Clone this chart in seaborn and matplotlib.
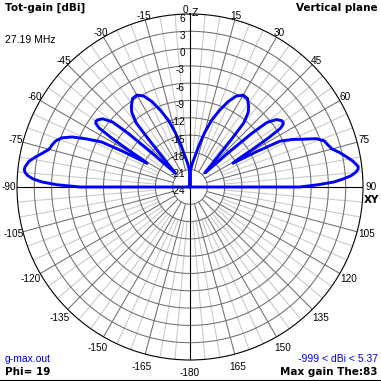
import numpy as np
import pandas as pd
import matplotlib
matplotlib.use("Agg")
import matplotlib.pyplot as plt
import seaborn as sns

# Elevation cut (theta from Z, clockwise positive), total gain in dBi
theta_deg = [-91, -90, -89, -88, -87, -86, -85, -84, -83, -81, -79, -77, -75, -73, -71, -69,
             -67, -65, -63, -62, -61, -60, -59, -58, -57, -56, -55, -54, -52, -50, -49, -48,
             -47, -46, -44, -42, -41, -40, -38, -36, -33, -30, -27, -24, -21, -18, -15, -12,
             -9, -6, -3, -1,
             0,
             1, 3, 6, 9, 12, 15, 18, 21, 24, 27, 30, 33, 36, 38, 40, 41, 42, 44, 46, 47,
             48, 49, 50, 52, 54, 55, 56, 57, 58, 59, 60, 61, 62, 63, 65, 67, 69, 71, 73,
             75, 77, 79, 81, 83, 84, 85, 86, 87, 88, 89, 90, 91]
gain_dbi = [-999, -4.9, -0.8, 1.8, 3.3, 4.2, 4.7, 4.9, 4.8, 4.3, 3.3, 2.2, 1.3, 1.0, 0.6, -0.2,
            -1.8, -4.3, -6.8, -11.0, -15.5, -14.5, -11.5, -8.0, -5.2, -4.3, -4.1, -4.2, -4.8, -6.5, -9.8, -15.5,
            -20.4, -20.4, -18.8, -16.0, -13.0, -9.5, -7.6, -6.7, -5.7, -5.6, -6.3, -7.8, -9.8, -11.8, -14.3, -16.8,
            -18.7, -19.8, -20.8, -21.2,
            -999,
            -21.2, -20.8, -19.8, -18.7, -16.8, -14.3, -11.8, -9.8, -7.8, -6.3, -5.6, -5.7, -6.7, -7.6, -9.5, -13.0, -16.0, -18.8, -20.4, -20.4,
            -15.5, -9.8, -6.6, -5.0, -4.4, -4.3, -4.5, -5.3, -8.0, -11.5, -14.5, -15.5, -11.0, -6.5, -4.5, -2.8, -0.6, 0.6, 1.0,
            1.5, 2.6, 3.6, 4.6, 5.37, 5.3, 4.8, 4.0, 2.6, 1.0, -1.8, -5.0, -999]

ring_db = [6, 3, 0, -3, -6, -9, -12, -15, -18, -21, -24]
angle_ticks = [-180, -165, -150, -135, -120, -105, -90, -75, -60, -45, -30, -15, 0,
               15, 30, 45, 60, 75, 90, 105, 120, 135, 150, 165]

sns.set_style("white")
plt.rcParams['font.family'] = ['Liberation Sans', 'DejaVu Sans']
plt.rcParams['text.color'] = 'black'

fig = plt.figure(figsize=(3.81, 3.81), dpi=100, facecolor='white')
ax = fig.add_axes([17 / 381, 21 / 381, 346 / 381, 346 / 381], projection='polar')
ax.set_theta_zero_location('N')
ax.set_theta_direction(-1)
ax.grid(False)
ax.set_xticks([])
ax.set_yticks([])
ax.spines['polar'].set_color('black')
ax.spines['polar'].set_linewidth(0.8)

rmin, rmax = ring_db[-1], ring_db[0]

# grid: rings every 3 dB, spokes every 15 deg (dark) and 5 deg (light)
full = np.linspace(0, 2 * np.pi, 721)
for db in ring_db[1:-1]:
    ax.plot(full, np.full_like(full, db), color='#6e6e6e', lw=0.75, zorder=1)
for a in range(0, 360, 5):
    t = np.deg2rad(a)
    if a % 90 == 0:
        ax.plot([t, t], [rmin, rmax], color='black', lw=0.8, zorder=2)
    elif a % 15 == 0:
        ax.plot([t, t], [-21, rmax], color='#6e6e6e', lw=0.75, zorder=1)
    else:
        ax.plot([t, t], [-18, rmax], color='#c8c8c8', lw=0.75, zorder=0.9)

# pattern
df = pd.DataFrame({'theta': np.deg2rad(theta_deg),
                   'gain': np.clip(gain_dbi, rmin, None)})
sns.lineplot(data=df, x='theta', y='gain', ax=ax, sort=False, estimator=None,
             color='#0000ff', lw=2.1, zorder=3)
ax.set_xlabel('')
ax.set_ylabel('')
ax.set_ylim(rmin, rmax)

# radial labels along the vertical axis
for db in ring_db:
    ax.annotate(str(db), xy=(0, db), xytext=(-5, -4.5), textcoords='offset pixels',
                ha='right', va='center', fontsize=7.2, zorder=4)

# angle labels round the outside
for a in angle_ticks:
    t = np.deg2rad(a)
    d = 8.5 - 4.5 * np.cos(t)
    dx, dy = d * np.sin(t), d * np.cos(t)
    if a == 0:
        dx = -5
    ax.annotate(str(a), xy=(t, rmax), xytext=(dx, dy), textcoords='offset pixels',
                ha='center', va='center', fontsize=7.2, annotation_clip=False)

def px(x, y):
    return x / 381, 1 - y / 381

fig.text(*px(192, 8), 'Z', fontsize=7.5, ha='left', va='top')
fig.text(*px(364, 195), 'XY', fontsize=7.5, fontweight='bold', ha='left', va='top',
         family='DejaVu Sans')
fig.text(*px(5, 3), 'Tot-gain [dBi]', fontsize=7.5, fontweight='bold', ha='left', va='top',
         family='DejaVu Sans')
fig.text(*px(5, 35), '27.19 MHz', fontsize=7.5, ha='left', va='top')
fig.text(*px(378, 3), 'Vertical plane', fontsize=7.5, fontweight='bold', ha='right', va='top',
         family='DejaVu Sans')
fig.text(*px(5, 354), 'g-max.out', fontsize=7.5, color='#0000ff', ha='left', va='top')
fig.text(*px(5, 367), 'Phi= 19', fontsize=7.5, fontweight='bold', ha='left', va='top',
         family='DejaVu Sans')
fig.text(*px(378, 354), '-999 < dBi < 5.37', fontsize=7.5, color='#0000ff', ha='right', va='top')
fig.text(*px(378, 367), 'Max gain The:83', fontsize=7.5, fontweight='bold', ha='right', va='top',
         family='DejaVu Sans')
fig.add_artist(plt.Line2D([0, 1], [0.5 / 381, 0.5 / 381], transform=fig.transFigure,
                          color='black', lw=1.5))

fig.savefig('out.png', dpi=100, facecolor='white')
